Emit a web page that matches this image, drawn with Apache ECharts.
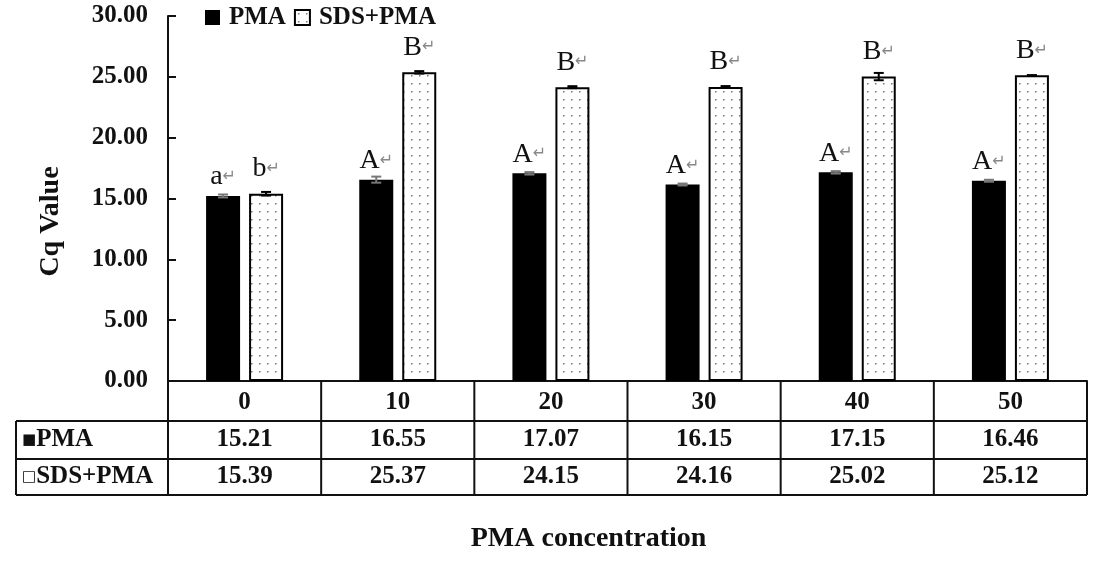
<!DOCTYPE html>
<html style="height: 100%">
<head>
<meta charset="utf-8">
<script src="https://cdn.jsdelivr.net/npm/echarts@6/dist/echarts.min.js"></script>
</head>
<body style="height: 100%; margin: 0; background: #fff">
<div id="container" style="width: 1105px; height: 564px"></div>
<script type="text/javascript">
var categories = ['0', '10', '20', '30', '40', '50'];
var pmaValues = [15.21, 16.55, 17.07, 16.15, 17.15, 16.46];
var sdsValues = [15.39, 25.37, 24.15, 24.16, 25.02, 25.12];
var pmaErrors = [0.12, 0.25, 0.1, 0.08, 0.1, 0.08];
var sdsErrors = [0.15, 0.1, 0.08, 0.08, 0.3, 0.02];
var pmaLetters = ['a', 'A', 'A', 'A', 'A', 'A'];
var sdsLetters = ['b', 'B', 'B', 'B', 'B', 'B'];
var yTicks = [0, 5, 10, 15, 20, 25, 30];
var seriesNames = ['PMA', 'SDS+PMA'];

var FONT = "'Liberation Serif', 'Times New Roman', serif";
var BAR_W = 34;
var BAR_GAP = 9;

var dom = document.getElementById('container');
var myChart = echarts.init(dom);

// dotted fill like the office chart
var tile = document.createElement('canvas');
tile.width = 8;
tile.height = 8;
var tctx = tile.getContext('2d');
tctx.fillStyle = '#fff';
tctx.fillRect(0, 0, 8, 8);
tctx.fillStyle = '#777';
tctx.fillRect(3, 3, 1.5, 1.5);

function letterLabel(dist) {
    return {
        show: true,
        position: 'top',
        distance: dist,
        formatter: function (p) {
            var letters = p.seriesIndex === 0 ? pmaLetters : sdsLetters;
            return '{t|' + letters[p.dataIndex] + '}{m|\u21b5}';
        },
        rich: {
            t: { fontFamily: FONT, fontSize: 28, color: '#111' },
            m: { fontFamily: 'DejaVu Sans', fontSize: 16, color: '#888' }
        }
    };
}

function errorSeries(values, errors, shift, color) {
    return {
        type: 'custom',
        z: 5,
        silent: true,
        data: values.map(function (v, i) { return [i, v, errors[i]]; }),
        renderItem: function (params, api) {
            var c = api.coord([api.value(0), api.value(1)]);
            var h = api.size([0, api.value(2)])[1];
            var x = c[0] + shift;
            var hw = 5;
            var st = { stroke: color, lineWidth: 2 };
            return {
                type: 'group',
                children: [
                    { type: 'line', shape: { x1: x, y1: c[1] - h, x2: x, y2: c[1] + h }, style: st },
                    { type: 'line', shape: { x1: x - hw, y1: c[1] - h, x2: x + hw, y2: c[1] - h }, style: st },
                    { type: 'line', shape: { x1: x - hw, y1: c[1] + h, x2: x + hw, y2: c[1] + h }, style: st }
                ]
            };
        }
    };
}

var shiftPx = (BAR_W + BAR_GAP) / 2;

var option = {
    animation: false,
    backgroundColor: '#fff',
    textStyle: { fontFamily: FONT },
    legend: {
        data: seriesNames,
        left: 200,
        top: 0,
        itemWidth: 15,
        itemHeight: 15,
        itemGap: 8,
        icon: 'rect',
        textStyle: { fontFamily: FONT, fontWeight: 'bold', fontSize: 25, color: '#111', padding: [0, 0, 0, 4] }
    },
    grid: { left: 168, right: 18, top: 16, bottom: 183, containLabel: false },
    xAxis: {
        type: 'category',
        data: categories,
        axisLine: { show: true, lineStyle: { color: '#111', width: 2 } },
        axisTick: { show: false },
        axisLabel: {
            margin: 9,
            fontFamily: FONT, fontWeight: 'bold', fontSize: 25, color: '#111'
        },
        name: 'PMA concentration',
        nameLocation: 'middle',
        nameGap: 144,
        nameTextStyle: { fontFamily: FONT, fontWeight: 'bold', fontSize: 28, color: '#111', padding: [0, 78, 0, 0] }
    },
    yAxis: {
        type: 'value',
        min: yTicks[0],
        max: yTicks[yTicks.length - 1],
        interval: yTicks[1] - yTicks[0],
        splitLine: { show: false },
        axisLine: { show: true, lineStyle: { color: '#111', width: 2 } },
        axisTick: { show: true, inside: true, length: 8, lineStyle: { color: '#111', width: 2 } },
        axisLabel: {
            margin: 20,
            fontFamily: FONT, fontWeight: 'bold', fontSize: 25, color: '#111',
            formatter: function (v) { return v.toFixed(2); }
        },
        name: 'Cq Value',
        nameLocation: 'middle',
        nameRotate: 90,
        nameGap: 103,
        nameTextStyle: { fontFamily: FONT, fontWeight: 'bold', fontSize: 28, color: '#111', padding: [0, 46, 0, 0] }
    },
    series: [
        {
            name: seriesNames[0],
            type: 'bar',
            barWidth: BAR_W,
            barGap: (BAR_GAP / BAR_W * 100) + '%',
            data: pmaValues,
            itemStyle: { color: '#000', borderColor: '#000', borderWidth: 0 },
            label: letterLabel(5)
        },
        {
            name: seriesNames[1],
            type: 'bar',
            barWidth: BAR_W,
            data: sdsValues,
            itemStyle: { color: { image: tile, repeat: 'repeat' }, borderColor: '#000', borderWidth: 2 },
            label: letterLabel(11)
        },
        errorSeries(pmaValues, pmaErrors, -shiftPx, '#777'),
        errorSeries(sdsValues, sdsErrors, shiftPx, '#000')
    ]
};

myChart.setOption(option);

// data table under the axis, built from the axis positions
function drawTable() {
    var x0 = myChart.convertToPixel({ xAxisIndex: 0 }, 0);
    var x1 = myChart.convertToPixel({ xAxisIndex: 0 }, 1);
    var colW = x1 - x0;
    var left = x0 - colW / 2;
    var right = left + colW * categories.length;
    var top = myChart.convertToPixel({ yAxisIndex: 0 }, 0);
    var rowH = [40, 38, 36];
    var rowTop = [top, top + rowH[0], top + rowH[0] + rowH[1]];
    var bottom = rowTop[2] + rowH[2];
    var labelLeft = 16;
    var ls = { stroke: '#111', lineWidth: 2 };
    var els = [];
    function line(a, b, c, d) {
        els.push({ type: 'line', shape: { x1: a, y1: b, x2: c, y2: d }, style: ls, z: 10 });
    }
    line(right, top, right, bottom);
    line(labelLeft, rowTop[1], right, rowTop[1]);
    line(labelLeft, rowTop[2], right, rowTop[2]);
    line(labelLeft, bottom, right, bottom);
    line(labelLeft, rowTop[1], labelLeft, bottom);
    for (var i = 0; i <= categories.length; i++) {
        line(left + colW * i, top, left + colW * i, bottom);
    }
    var rows = [pmaValues, sdsValues];
    var marks = ['\u25a0', '\u25a1'];
    rows.forEach(function (vals, r) {
        var cy = rowTop[r + 1] + rowH[r + 1] / 2;
        els.push({
            type: 'text', z: 10,
            style: {
                x: labelLeft + 6, y: cy,
                text: '{m|' + marks[r] + '}{t|' + seriesNames[r] + '}',
                verticalAlign: 'middle',
                rich: {
                    m: { fontFamily: 'DejaVu Sans', fontSize: 15, fill: '#111' },
                    t: { fontFamily: FONT, fontWeight: 'bold', fontSize: 25, fill: '#111' }
                }
            }
        });
        vals.forEach(function (v, i) {
            els.push({
                type: 'text', z: 10,
                style: {
                    x: left + colW * (i + 0.5), y: cy,
                    text: v.toFixed(2),
                    align: 'center', verticalAlign: 'middle',
                    fontFamily: FONT, fontWeight: 'bold', fontSize: 25, fill: '#111'
                }
            });
        });
    });
    myChart.setOption({ graphic: { elements: els } });
}
drawTable();
</script>
</body>
</html>
